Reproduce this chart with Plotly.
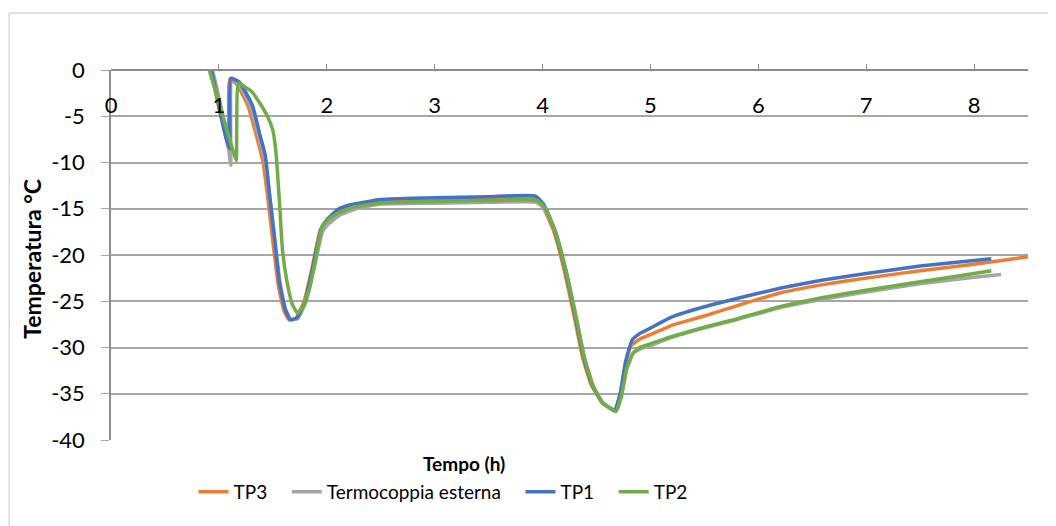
import plotly.graph_objects as go

# Tempo (h) / Temperatura (°C) for each thermocouple
tp3_t = [0.84, 0.92, 1.00, 1.06, 1.09, 1.10, 1.17, 1.27, 1.35, 1.41, 1.46, 1.51, 1.55,
         1.60, 1.65, 1.71, 1.79, 1.86, 1.94, 2.00, 2.10, 2.25, 2.5, 3.0, 3.5, 3.92,
         4.00, 4.10, 4.20, 4.30, 4.37, 4.45, 4.55, 4.62, 4.67, 4.72, 4.77, 4.82, 4.90,
         5.0, 5.2, 5.5, 5.8, 6.2, 6.6, 7.0, 7.5, 8.0, 8.5]
tp3_v = [2.5, 0.0, -4.0, -7.0, -8.5, -1.0, -1.6, -3.9, -7.2, -10.0, -14.5, -19.5, -23.2,
         -25.9, -27.0, -26.9, -25.0, -21.6, -17.3, -16.3, -15.4, -14.7, -14.2, -14.0, -13.9, -13.8,
         -14.7, -17.3, -21.6, -27.0, -31.0, -34.0, -35.9, -36.5, -36.8, -35.0, -31.8, -29.8, -29.1,
         -28.6, -27.6, -26.6, -25.5, -24.1, -23.2, -22.5, -21.7, -21.0, -20.2]

ext_t = [0.86, 0.94, 1.02, 1.08, 1.11, 1.12, 1.19, 1.29, 1.37, 1.43, 1.48, 1.53, 1.57,
         1.62, 1.67, 1.73, 1.81, 1.88, 1.96, 2.02, 2.12, 2.27, 2.5, 3.0, 3.5, 3.94,
         4.02, 4.12, 4.22, 4.32, 4.39, 4.47, 4.56, 4.63, 4.68, 4.73, 4.78, 4.84, 4.90,
         5.0, 5.2, 5.5, 5.8, 6.2, 6.6, 7.0, 7.5, 8.0, 8.25]
ext_v = [2.5, 0.0, -4.0, -7.5, -10.3, -1.0, -1.6, -3.9, -7.2, -10.0, -14.5, -19.5, -23.2,
         -25.9, -27.0, -26.9, -25.0, -21.6, -17.5, -16.6, -15.7, -15.0, -14.5, -14.4, -14.3, -14.3,
         -15.0, -17.5, -21.8, -27.2, -31.2, -34.2, -36.0, -36.6, -36.9, -35.3, -32.3, -30.6, -30.2,
         -29.8, -28.9, -27.9, -27.0, -25.7, -24.8, -24.0, -23.1, -22.4, -22.1]

tp1_t = [0.85, 0.93, 1.01, 1.07, 1.10, 1.11, 1.19, 1.31, 1.38, 1.43, 1.47, 1.52, 1.56,
         1.61, 1.66, 1.72, 1.80, 1.87, 1.95, 2.00, 2.10, 2.21, 2.5, 3.0, 3.5, 3.93,
         4.01, 4.11, 4.21, 4.31, 4.38, 4.46, 4.55, 4.62, 4.67, 4.72, 4.77, 4.83, 4.90,
         5.0, 5.2, 5.5, 5.8, 6.2, 6.6, 7.0, 7.5, 8.0, 8.16]
tp1_v = [2.5, 0.0, -4.5, -7.5, -8.5, -0.9, -1.3, -3.8, -7.0, -9.2, -13.5, -18.6, -22.9,
         -25.7, -27.0, -26.8, -25.0, -21.4, -17.1, -16.2, -15.1, -14.6, -14.0, -13.8, -13.7, -13.6,
         -14.5, -17.2, -21.5, -27.0, -31.0, -34.0, -35.9, -36.5, -36.8, -35.0, -31.5, -29.2, -28.5,
         -27.9, -26.7, -25.6, -24.7, -23.6, -22.7, -22.0, -21.2, -20.6, -20.4]

tp2_t = [0.87, 0.95, 1.05, 1.12, 1.16, 1.18, 1.25, 1.31, 1.38, 1.45, 1.50, 1.53, 1.56,
         1.59, 1.63, 1.68, 1.73, 1.78, 1.84, 1.90, 1.96, 2.00, 2.10, 2.25, 2.5, 3.0, 3.5, 3.95,
         4.03, 4.12, 4.22, 4.32, 4.39, 4.47, 4.56, 4.63, 4.68, 4.73, 4.78, 4.84, 4.90,
         5.0, 5.2, 5.5, 5.8, 6.2, 6.6, 7.0, 7.5, 8.0, 8.16]
tp2_v = [1.5, -1.5, -5.5, -8.3, -9.8, -1.4, -1.9, -2.4, -3.6, -5.0, -6.5, -9.0, -14.0,
         -19.5, -22.8, -25.3, -26.3, -25.5, -23.6, -20.2, -16.8, -16.3, -15.5, -14.8, -14.4, -14.2, -14.1, -14.1,
         -15.0, -17.5, -21.8, -27.2, -31.2, -34.2, -36.0, -36.6, -36.9, -35.3, -32.3, -30.6, -30.0,
         -29.6, -28.8, -27.8, -26.9, -25.6, -24.6, -23.8, -22.9, -22.0, -21.7]

series = [
    ("TP3", tp3_t, tp3_v, "#ED7D31"),
    ("Termocoppia esterna", ext_t, ext_v, "#A5A5A5"),
    ("TP1", tp1_t, tp1_v, "#4472C4"),
    ("TP2", tp2_t, tp2_v, "#70AD47"),
]

x_ticks = [0, 1, 2, 3, 4, 5, 6, 7, 8]
y_ticks = [0, -5, -10, -15, -20, -25, -30, -35, -40]

FONT = "Lato"
GAP = "\u00a0" * 3  # extra room between legend entries

fig = go.Figure()
for i, (name, t, v, color) in enumerate(series):
    label = name if i == len(series) - 1 else name + GAP
    fig.add_trace(go.Scatter(x=t, y=v, mode="lines", name=label,
                             line=dict(color=color, width=3.5, shape="spline", smoothing=0.4)))

# the page body adds an 8px offset, so the figure is 8px smaller than the window
fig.update_layout(
    width=1048, height=518,
    margin=dict(l=103, r=28, t=62, b=86),
    paper_bgcolor="white", plot_bgcolor="white",
    font=dict(family=FONT, size=20, color="black"),
    showlegend=True,
    legend=dict(orientation="h", x=0.09, xanchor="left", y=-0.14, yanchor="middle",
                font=dict(size=19), itemwidth=30, traceorder="normal"),
)

# horizontal axis sits on the 0 °C line at the top, labels hang below it
fig.update_xaxes(
    range=[0, 8.5], side="bottom", anchor="free", position=1, tickvals=x_ticks,
    showgrid=False, zeroline=False, automargin=False,
    showline=True, linecolor="#8C8C8C", linewidth=1.5,
    ticks="inside", ticklen=5, tickcolor="#8C8C8C",
    ticklabelstandoff=16,
    tickfont=dict(size=22),
)
fig.update_yaxes(
    range=[-40, 0], tickvals=y_ticks, ticktext=[str(v) for v in y_ticks],
    showgrid=True, gridcolor="#A6A6A6", gridwidth=1.5, zeroline=False, automargin=False,
    showline=True, linecolor="#8C8C8C", linewidth=1.5,
    ticks="outside", ticklen=8, tickcolor="#A6A6A6",
    tickfont=dict(size=22), ticklabelstandoff=12,
)

# axis titles
fig.add_annotation(text="<b>Temperatura °C</b>", xref="paper", yref="paper",
                   x=-0.086, y=0.49, textangle=-90, showarrow=False,
                   font=dict(size=23), xanchor="center", yanchor="middle")
fig.add_annotation(text="<b>Tempo (h)</b>", xref="paper", yref="paper",
                   x=0.385, y=-0.063, showarrow=False,
                   font=dict(size=19), xanchor="center", yanchor="middle")

# chart area border (top and left edges visible in the picture)
fig.add_shape(type="line", xref="paper", yref="paper", x0=-0.111, x1=1.05, y0=1.154, y1=1.154,
              line=dict(color="#D9D9D9", width=1.5))
fig.add_shape(type="line", xref="paper", yref="paper", x0=-0.111, x1=-0.111, y0=1.154, y1=-0.3,
              line=dict(color="#D9D9D9", width=1.5))

fig.write_html("out.html")
